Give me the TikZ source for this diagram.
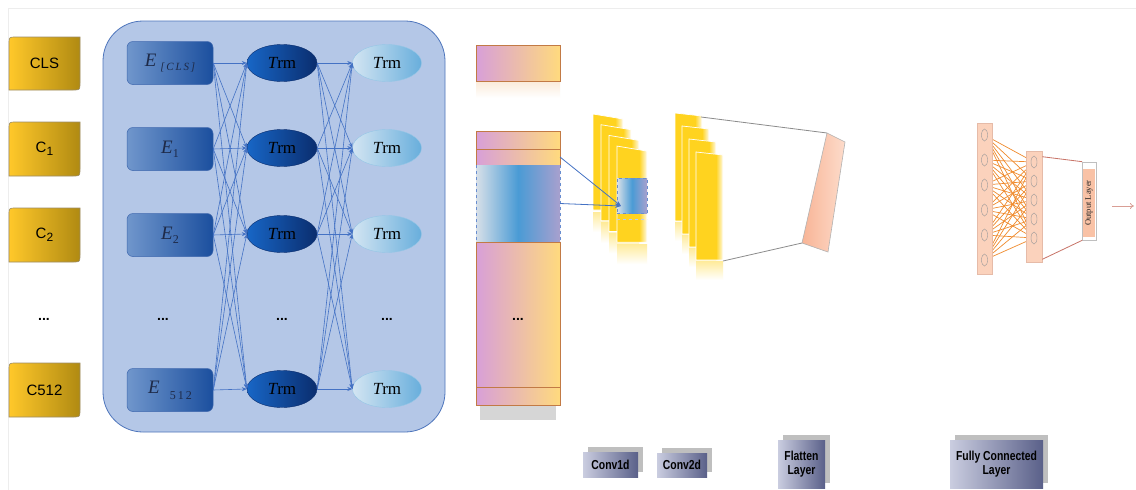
\documentclass[tikz,border=0pt]{standalone}
\usepackage{fontspec}
\setmainfont{Liberation Serif}
\newfontfamily\sansf{Liberation Sans}
\newfontfamily\narrowf[FakeStretch=0.8]{Liberation Sans}
\usetikzlibrary{shapes.geometric,arrows.meta,shadows,calc}
\definecolor{yelL}{HTML}{FFC82A}
\definecolor{yelR}{HTML}{B08A12}
\definecolor{ybord}{HTML}{9C8C66}
\definecolor{encF}{HTML}{B4C7E7}
\definecolor{encB}{HTML}{4F76BC}
\definecolor{eL}{HTML}{7096CC}
\definecolor{eR}{HTML}{1B4F9E}
\definecolor{eB}{HTML}{3F68AE}
\definecolor{eT}{HTML}{1E2A48}
\definecolor{tdL}{HTML}{1866C6}
\definecolor{tdR}{HTML}{0A2D6E}
\definecolor{tlL}{HTML}{D3E5F2}
\definecolor{tlR}{HTML}{68AEDC}
\definecolor{arrC}{HTML}{4472C4}
\definecolor{pkL}{HTML}{D89FD8}
\definecolor{orR}{HTML}{FFDA7E}
\definecolor{colB}{HTML}{C27A45}
\definecolor{bdL}{HTML}{D8E0E8}
\definecolor{bdM}{HTML}{4A9BD5}
\definecolor{bdR}{HTML}{A8A0CE}
\definecolor{mapY}{HTML}{FFD31F}
\definecolor{flL}{HTML}{F8B496}
\definecolor{flR}{HTML}{FDDCCB}
\definecolor{fcF}{HTML}{FBD2BC}
\definecolor{fcB}{HTML}{E6BBA8}
\definecolor{fcE}{HTML}{F08A2C}
\definecolor{fcR}{HTML}{C87468}
\definecolor{outF}{HTML}{F9C2A6}
\definecolor{lbL}{HTML}{CACDE0}
\definecolor{lbR}{HTML}{5A6089}
\pgfdeclarehorizontalshading{mapfade}{100bp}{color(0bp)=(mapY); color(25bp)=(mapY); color(62bp)=(mapY); color(75bp)=(mapY!10); color(100bp)=(mapY!10)}
\newcommand\ybox[4]{%
  \path[left color=yelL,right color=yelR,draw=ybord,line width=0.6]
    (9,#3) -- (9,#2+7) .. controls (9,#2) .. (16,#2) -- (80,#2)
    -- (80,#3-7) .. controls (80,#3) .. (73,#3) -- cycle;
  \node[ytext] (#1) at (44.5,{(#2+#3)/2}) {#4};}
\begin{document}
\begin{tikzpicture}[x=1pt,y=-1pt,
  ytext/.style={font=\sansf\fontsize{15}{15}\selectfont,text=black,inner sep=0},
  enc/.style={draw=encB,fill=encF,line width=0.8,rounded corners=40,minimum width=342,minimum height=411,inner sep=0},
  ebox/.style={draw=eB,line width=0.5,left color=eL,right color=eR,rounded corners=6,minimum width=86,minimum height=43,inner sep=0,text=eT,font=\fontsize{19}{19}\selectfont},
  trmD/.style={ellipse,left color=tdL,right color=tdR,draw=tdR,line width=0.4,minimum width=70,minimum height=37,inner sep=0,font=\fontsize{17}{17}\selectfont,text=black},
  trmL/.style={ellipse,left color=tlL,right color=tlR,draw=tlR!70,line width=0.4,minimum width=69,minimum height=37,inner sep=0,font=\fontsize{17}{17}\selectfont,text=black},
  dots/.style={font=\sansf\bfseries\fontsize{14}{14}\selectfont,inner sep=0},
  earr/.style={draw=arrC,line width=0.6,-{Stealth[length=5pt,width=4pt]}},
  colbox/.style={draw=colB,line width=0.7,left color=pkL,right color=orR,minimum width=84,inner sep=0,outer sep=0,anchor=north west},
  bandshade/.style={left color=bdL,right color=bdR,middle color=bdM},
  band/.style={bandshade,minimum width=84,inner sep=0,outer sep=0,anchor=north west},
  barr/.style={draw=arrC,line width=0.8,-{Stealth[length=6pt,width=4.5pt]}},
  gline/.style={draw=black!45,line width=0.8},
  mapstyle/.style={shading=mapfade,draw=white,line width=0.7},
  fclayer/.style={fill=fcF,draw=fcB,line width=0.6,minimum width=15,inner sep=0},
  neuron/.style={ellipse,draw=black!40,line width=0.4,minimum width=6,minimum height=12,inner sep=0},
  fcedge/.style={draw=fcE,line width=0.7},
  lab/.style={left color=lbL,right color=lbR,inner sep=0,align=center,font=\narrowf\bfseries\fontsize{13}{14}\selectfont,text=black,
    drop shadow={shadow xshift=5pt,shadow yshift=5pt,fill=black!45,opacity=0.55}}
]
\useasboundingbox (0,0) rectangle (1136,490);
\fill[white] (0,0) rectangle (1136,490);
\draw[black!7,line width=0.5] (8,8) -- (8,490);
\draw[black!7,line width=0.5] (8,8) -- (1136,8);

% input tokens
\ybox{cls}{37}{90}{CLS}
\ybox{c1}{122}{176}{C\raisebox{-3pt}{\fontsize{12}{12}\selectfont 1}}
\ybox{c2}{208}{262}{C\raisebox{-3pt}{\fontsize{12}{12}\selectfont 2}}
\ybox{c512}{363}{417}{C512}
\node[dots] (d0) at (44,319) {...};

% encoder
\node[enc] (encoder) at (274,226.5) {};
\node[ebox] (e0) at (170,63) {{\itshape E}\hspace{4pt}\raisebox{-4pt}{\fontsize{11}{11}\selectfont\itshape [\,C\,L\,S\,]}};
\node[ebox] (e1) at (170,149) {{\itshape E}\raisebox{-4pt}{\fontsize{12}{12}\selectfont 1}};
\node[ebox] (e2) at (170,235) {{\itshape E}\raisebox{-4pt}{\fontsize{12}{12}\selectfont 2}};
\node[ebox] (e3) at (170,390) {{\itshape E}\hspace{10pt}\raisebox{-6pt}{\fontsize{12}{12}\selectfont 5\,1\,2}};
\node[dots] (d1) at (163,319) {...};

\foreach \i/\y in {0/63,1/148,2/234,3/389}{
  \node[trmD] (t\i) at (282,\y) {{\itshape T}rm};
  \node[trmL] (u\i) at (387,\y) {{\itshape T}rm};
}
\node[dots] (d2) at (282,319) {...};
\node[dots] (d3) at (387,319) {...};

\foreach \i in {0,...,3}{
  \foreach \j in {0,...,3}{
    \draw[earr] (e\i.east) -- (t\j.west);
    \draw[earr] (t\i.east) -- (u\j.west);
  }
}

% output embedding column
\fill[top color=pkL!30!orR!35, bottom color=white] (476,82) rectangle (560,98);
\node[colbox,minimum height=36] (clsout) at (476,45) {};
\fill[black!16] (480,405) rectangle (556,420);
\node[colbox,minimum height=18] (s1) at (476,131) {};
\node[colbox,minimum height=16] (s2) at (476,149) {};
\node[band,minimum height=77] (bnd) at (476,165) {};
\draw[dashed,draw=arrC!80,line width=0.6] (bnd.north west) -- (bnd.south west);
\draw[dashed,draw=arrC!80,line width=0.6] (bnd.north east) -- (bnd.south east);
\node[colbox,minimum height=145] (s3) at (476,242) {};
\node[colbox,minimum height=18] (s4) at (476,387) {};
\node[dots] (d4) at (518,319) {...};

% conv1d feature maps
\foreach \k in {0,...,3}{
  \pgfmathsetmacro\xa{593+8*\k}
  \pgfmathsetmacro\ya{114+10.7*\k}
  \fill[top color=mapY!45,bottom color=white] (\xa,\ya+98) rectangle (\xa+30,\ya+118);
  \path[mapstyle] (\xa,\ya) -- (\xa+30,\ya+5) -- (\xa+30,\ya+96) -- (\xa,\ya+96) -- cycle;
}
\node[bandshade,draw=arrC!80,dashed,line width=0.6,minimum width=30,minimum height=35,inner sep=0] (patch) at (632,195.5) {};
\draw[dashed,draw=arrC!35,line width=0.6] (617,219) -- (647,219);
\coordinate (tip) at (621,206);
\draw[barr] (s2.east) -- (tip);
\draw[barr] (bnd.east) -- (tip);

% conv2d feature maps
\foreach \k in {0,...,3}{
  \pgfmathsetmacro\xa{675+7*\k}
  \pgfmathsetmacro\ya{113+13*\k}
  \fill[top color=mapY!45,bottom color=white] (\xa,\ya+109) rectangle (\xa+27,\ya+128);
  \path[mapstyle] (\xa,\ya) -- (\xa+27,\ya+3) -- (\xa+27,\ya+108) -- (\xa,\ya+108) -- cycle;
}
\coordinate (m2top) at (701,117);
\coordinate (m2bot) at (723,261);

% flatten
\coordinate (f1) at (827,133);
\coordinate (f2) at (845,142);
\coordinate (f3) at (828,252);
\coordinate (f4) at (802,243);
\path[left color=flL,right color=flR,draw=black!30,line width=0.6] (f1) -- (f2) -- (f3) -- (f4) -- cycle;
\draw[gline] (m2top) -- (f1);
\draw[gline] (m2bot) -- (f4);

% fully connected
\foreach \i/\y in {1/135,2/160,3/185,4/210,5/235,6/260}{\coordinate (a\i) at (984.5,\y);}
\foreach \j/\y in {1/162,2/181,3/200,4/219,5/238}{\coordinate (b\j) at (1034,\y);}
\foreach \i in {1,...,6}{\foreach \j in {1,...,5}{\draw[fcedge] (a\i) -- (b\j);}}
\node[fclayer,minimum height=151] (l1) at (984.5,198.5) {};
\node[fclayer,minimum height=111,minimum width=16] (l2) at (1034,206.5) {};
\foreach \i in {1,...,6}{\node[neuron] at (a\i) {};}
\foreach \j in {1,...,5}{\node[neuron] at (b\j) {};}
\node[draw=black!25,fill=white,line width=0.6,minimum width=14,minimum height=78,inner sep=0] (outbox) at (1089.5,201) {};
\node[fill=outF,minimum width=12,minimum height=68,inner sep=0] (out) at (1089,203) {};
\node[rotate=90,font=\fontsize{8.5}{8.5}\selectfont,text=black!85,inner sep=0] (outtext) at (out) {Output Layer};
\draw[fcR,line width=0.8] ($(l2.north east)+(0,6)$) -- (outbox.north west);
\draw[fcR,line width=0.8] ($(l2.south east)+(0,-3)$) -- (outbox.south west);
\coordinate (fa) at (1112,206);
\coordinate (fb) at (1134,206);
\draw[draw=fcR!70,line width=0.8,-{To[length=4pt,width=6pt]}] (fa) -- (fb);

% bottom labels
\node[lab,minimum width=55,minimum height=25] (lc1) at (610.5,464.5) {Conv1d};
\node[lab,minimum width=50,minimum height=24] (lc2) at (682,465) {Conv2d};
\node[lab,minimum width=47,minimum height=48] (lfl) at (801.5,464) {Flatten\\Layer};
\node[lab,minimum width=93,minimum height=48] (lfc) at (996.5,464) {Fully Connected\\Layer};
\end{tikzpicture}
\end{document}
